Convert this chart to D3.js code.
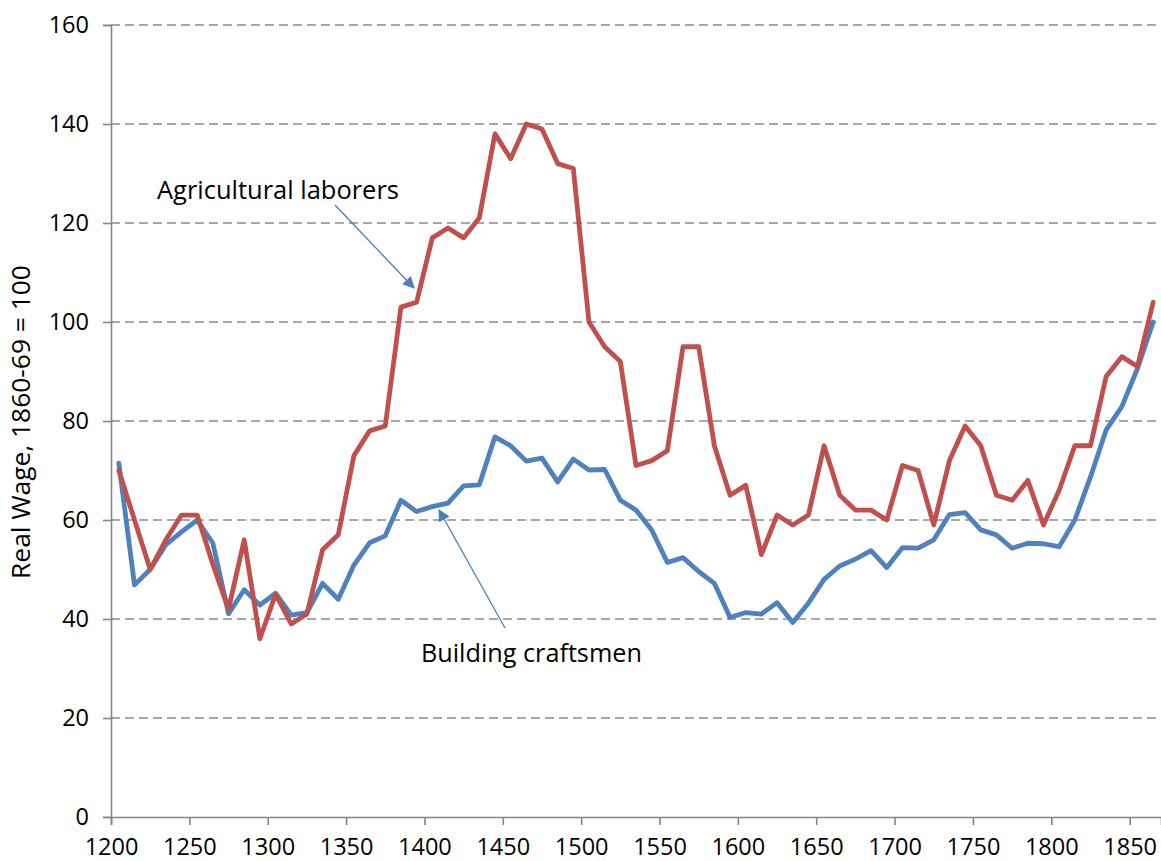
<!DOCTYPE html>
<html>
<head>
<meta charset="utf-8">
<script src="https://cdn.jsdelivr.net/npm/d3@7"></script>
<style>
  html, body { margin: 0; padding: 0; background: #fff; }
  svg { display: block; }
  text { font-family: "Open Sans", "Noto Sans", sans-serif; fill: #000; }
</style>
</head>
<body>
<svg id="chart" width="1161" height="861"></svg>
<script>
// ---- Data (decade mid-points) ----
const years = [1205,1215,1225,1235,1245,1255,1265,1275,1285,1295,1305,1315,1325,1335,1345,1355,1365,1375,1385,1395,
  1405,1415,1425,1435,1445,1455,1465,1475,1485,1495,1505,1515,1525,1535,1545,1555,1565,1575,1585,1595,
  1605,1615,1625,1635,1645,1655,1665,1675,1685,1695,1705,1715,1725,1735,1745,1755,1765,1775,1785,1795,
  1805,1815,1825,1835,1845,1855,1865];

const agricultural = [70,60,50,56,61,61,51,42,56,36,45,39,41,54,57,73,78,79,103,104,
  117,119,117,121,138,133,140,139,132,131,100,95,92,71,72,74,95,95,75,65,
  67,53,61,59,61,75,65,62,62,60,71,70,59,72,79,75,65,64,68,59,
  66,75,75,89,93,91,104];

const building = [71.5,46.9,50,55,57.6,60,55.3,41.1,45.9,42.8,45.2,40.8,41.3,47.2,44,50.9,55.4,56.8,64,61.7,
  62.7,63.4,66.9,67.1,76.8,75,71.9,72.5,67.7,72.3,70.1,70.2,64,62,58,51.4,52.4,49.6,47.2,40.3,
  41.3,41,43.3,39.3,43.2,48,50.7,52.1,53.8,50.4,54.4,54.3,56,61.1,61.5,58,57,54.3,55.3,55.2,
  54.6,60,68.7,78.2,82.9,90.6,100];

const xTicks = [1200,1250,1300,1350,1400,1450,1500,1550,1600,1650,1700,1750,1800,1850];
const yTicks = [0,20,40,60,80,100,120,140,160];
const yLabel = "Real Wage, 1860-69 = 100";
const annotations = [
  { text: "Agricultural laborers", tx: 157, ty: 199, w: 242, from: [335, 205], to: [414, 288] },
  { text: "Building craftsmen",    tx: 421, ty: 662, w: 221, from: [505, 628], to: [439, 510] }
];

// ---- Layout ----
const svg = d3.select("#chart");
const x = d3.scaleLinear().domain([1200, 1870]).range([111, 1161]);
const y = d3.scaleLinear().domain([0, 160]).range([817, 25]);
const axisColor = "#868686";
const tickFont = "23.5px";

// gridlines
svg.append("g").selectAll("line")
  .data(yTicks.filter(d => d > 0))
  .join("line")
  .attr("x1", x(1200)).attr("x2", 1161)
  .attr("y1", d => y(d)).attr("y2", d => y(d))
  .attr("stroke", "#8c8c8c").attr("stroke-width", 1.6)
  .attr("stroke-dasharray", "9,5");

// y axis
const yAxis = d3.axisLeft(y).tickValues(yTicks).tickSize(8).tickPadding(14).tickFormat(d3.format("d"));
const gy = svg.append("g").attr("transform", `translate(${x(1200)},0)`).call(yAxis);
gy.select(".domain").attr("stroke", axisColor).attr("stroke-width", 1.6);
gy.selectAll(".tick line").attr("stroke", axisColor).attr("stroke-width", 1.6);
gy.selectAll(".tick text").style("font-size", tickFont).style("font-family", "'Open Sans', sans-serif").attr("fill", "#000");

// x axis
const xAxis = d3.axisBottom(x).tickValues(xTicks).tickSize(8).tickPadding(13).tickFormat(d3.format("d"));
const gx = svg.append("g").attr("transform", `translate(0,${y(0)})`).call(xAxis);
gx.select(".domain").attr("stroke", axisColor).attr("stroke-width", 1.6);
gx.selectAll(".tick line").attr("stroke", axisColor).attr("stroke-width", 1.6);
gx.selectAll(".tick text").style("font-size", tickFont).style("font-family", "'Open Sans', sans-serif").attr("fill", "#000");

// y label
const yl = svg.append("text")
  .attr("transform", `translate(30,${422}) rotate(-90)`)
  .attr("text-anchor", "middle")
  .style("font-size", "22px")
  .text(yLabel);
(function fit(el, target) {
  const len = el.node().getComputedTextLength();
  el.style("font-size", (22 * target / len).toFixed(2) + "px");
})(yl, 314);

// lines
const line = d3.line().x((d, i) => x(years[i])).y(d => y(d));
svg.append("path").datum(building)
  .attr("d", line).attr("fill", "none")
  .attr("stroke", "#4F81BD").attr("stroke-width", 4.8)
  .attr("stroke-linejoin", "round").attr("stroke-linecap", "round");
svg.append("path").datum(agricultural)
  .attr("d", line).attr("fill", "none")
  .attr("stroke", "#C0504D").attr("stroke-width", 4.8)
  .attr("stroke-linejoin", "round").attr("stroke-linecap", "round");

// annotations
const defs = svg.append("defs");
defs.append("marker").attr("id", "arrow")
  .attr("viewBox", "0 0 10 10").attr("refX", 9).attr("refY", 5)
  .attr("markerWidth", 14).attr("markerHeight", 12)
  .attr("markerUnits", "userSpaceOnUse")
  .attr("orient", "auto")
  .append("path").attr("d", "M0,0 L10,5 L0,10 z").attr("fill", "#4A7EBB");

annotations.forEach(a => {
  svg.append("line")
    .attr("x1", a.from[0]).attr("y1", a.from[1])
    .attr("x2", a.to[0]).attr("y2", a.to[1])
    .attr("stroke", "#4A7EBB").attr("stroke-width", 1.3)
    .attr("marker-end", "url(#arrow)");
  const t = svg.append("text").attr("x", a.tx).attr("y", a.ty)
    .style("font-size", "24px").text(a.text);
  const len = t.node().getComputedTextLength();
  t.style("font-size", (24 * a.w / len).toFixed(2) + "px");
});
</script>
</body>
</html>
